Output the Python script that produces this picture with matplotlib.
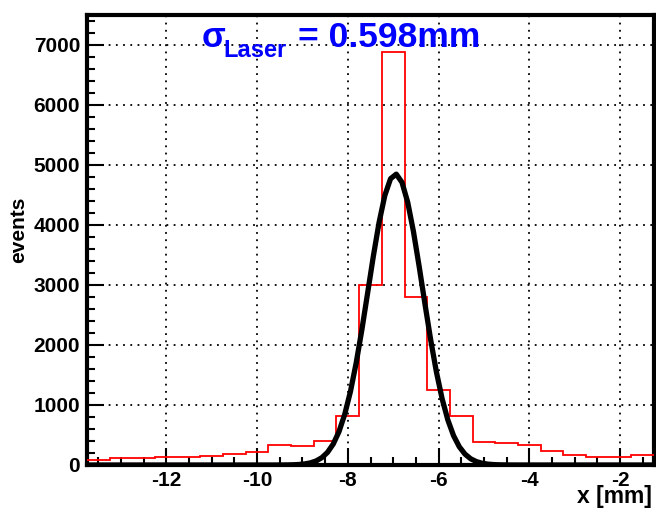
import numpy as np
import matplotlib
matplotlib.use("Agg")
import matplotlib.pyplot as plt
from matplotlib.ticker import MultipleLocator

# histogram of laser spot position, 0.5 mm bins from -13.75 to -1.25
bin_edges = np.linspace(-13.75, -1.25, 26)
counts = [90, 115, 120, 135, 140, 145, 180, 210, 330, 315, 405, 820,
          3000, 6880, 2800, 1250, 815, 385, 365, 340, 240, 175, 130, 140, 175]

# gaussian fit result
fit_amp = 4850.0
fit_mean = -6.95
fit_sigma = 0.598

x_ticks = [-12, -10, -8, -6, -4, -2]
y_ticks = [0, 1000, 2000, 3000, 4000, 5000, 6000, 7000]

plt.rcParams["font.family"] = ["Liberation Sans", "DejaVu Sans"]
plt.rcParams["font.weight"] = "bold"
plt.rcParams["axes.unicode_minus"] = False

W, H = 656, 517
fig = plt.figure(figsize=(W / 100, H / 100), dpi=100)
ax = fig.add_axes([87 / W, 52 / H, 567 / W, 450 / H])

ax.stairs(counts, bin_edges, color="red", lw=1.3, baseline=None, zorder=3)

xf = np.linspace(bin_edges[0], bin_edges[-1], 100)
yf = fit_amp * np.exp(-0.5 * ((xf - fit_mean) / fit_sigma) ** 2)
ax.plot(xf, yf, color="black", lw=3.8, zorder=4)

ax.set_xlim(bin_edges[0], bin_edges[-1])
ax.set_ylim(0, 7500)
ax.set_xticks(x_ticks)
ax.set_yticks(y_ticks)
ax.xaxis.set_minor_locator(MultipleLocator(0.5))
ax.yaxis.set_minor_locator(MultipleLocator(200))
ax.tick_params(which="major", direction="in", length=12, width=1.5,
               labelsize=15, top=False, right=False)
ax.tick_params(which="minor", direction="in", length=6, width=1.5,
               top=False, right=False)
ax.tick_params(axis="x", pad=4)
ax.tick_params(axis="y", pad=5)
for lab in ax.get_xticklabels() + ax.get_yticklabels():
    lab.set_fontweight("bold")

ax.grid(True, which="major", color="black", lw=1.3, linestyle=(0, (1, 3)))
ax.set_axisbelow(True)
for s in ax.spines.values():
    s.set_linewidth(3)

fig.text(19 / W, 1 - 230 / H, "events", rotation=90, ha="center", va="center",
         fontsize=15, fontweight="bold")
fig.text(652 / W, 1 - 503 / H, "x [mm]", ha="right", va="baseline",
         fontsize=16.5, fontweight="bold")

blue = "#0000ff"
fig.text(202 / W, 1 - 47 / H, "\u03c3", ha="left", va="baseline",
         fontsize=25, fontweight="bold", color=blue)
fig.text(223 / W, 1 - 57 / H, "Laser", ha="left", va="baseline",
         fontsize=17, fontweight="bold", color=blue)
fig.text(298 / W, 1 - 47 / H, "= 0.598mm", ha="left", va="baseline",
         fontsize=25.5, fontweight="bold", color=blue)

fig.savefig("out.png", dpi=100, facecolor="white")
